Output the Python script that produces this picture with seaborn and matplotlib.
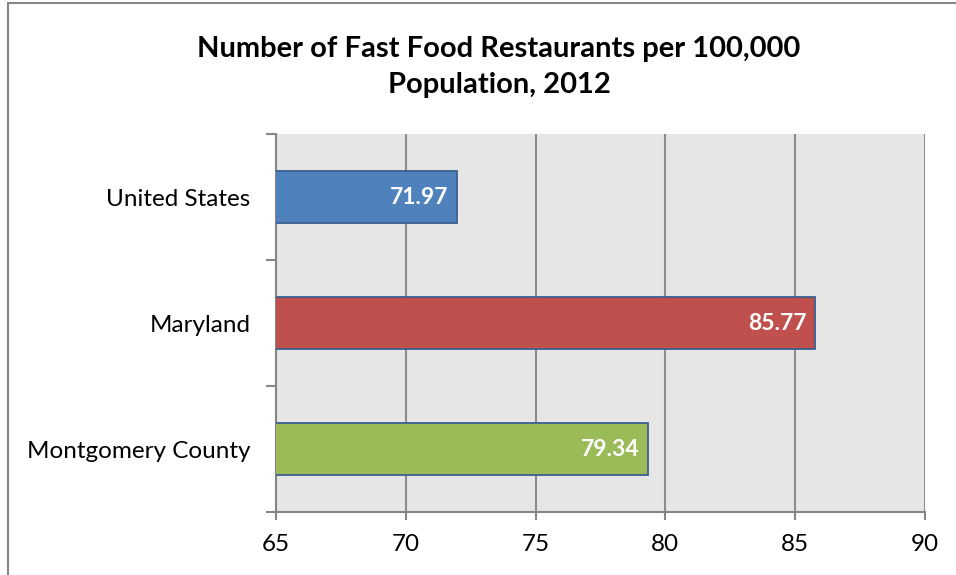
import matplotlib
matplotlib.use("Agg")
import matplotlib.pyplot as plt
from matplotlib.patches import Rectangle
from matplotlib.ticker import FixedLocator
import seaborn as sns
import pandas as pd

# Data
regions = ["United States", "Maryland", "Montgomery County"]
rates = [71.97, 85.77, 79.34]
bar_colors = ["#4F81BD", "#C0504D", "#9BBB59"]
x_ticks = [65, 70, 75, 80, 85, 90]

df = pd.DataFrame({"region": regions, "rate": rates})

sns.set_theme(style="white")
plt.rcParams["font.family"] = ["Lato", "DejaVu Sans"]

fig = plt.figure(figsize=(9.56, 5.75), dpi=100)
ax = fig.add_axes([276 / 956, 1 - 512 / 575, (925 - 276) / 956, (512 - 134) / 575])
ax.set_facecolor("#E6E6E6")

sns.barplot(data=df, y="region", x="rate", hue="region", palette=bar_colors,
            order=regions, hue_order=regions, orient="h", width=0.405,
            saturation=1, legend=False, ax=ax, edgecolor="#3B5F8F",
            linewidth=1.3, zorder=3)

ax.set_xlim(65, 90)
ax.set_ylim(2.5, -0.5)
ax.set_xticks(x_ticks)
ax.set_xticklabels([str(t) for t in x_ticks], fontsize=17.5, color="black")
ax.xaxis.grid(True, color="#8C8C8C", linewidth=1.5, zorder=0)
ax.set_axisbelow(True)
ax.set_xlabel("")
ax.set_ylabel("")

# Category labels at centres, tick marks at slot boundaries
ax.set_yticks(range(len(regions)))
ax.set_yticklabels(regions, fontsize=17.5, color="black")
ax.tick_params(axis="y", which="major", length=0, pad=18.5)
ax.yaxis.set_minor_locator(FixedLocator([-0.5, 0.5, 1.5, 2.5]))
ax.tick_params(axis="y", which="minor", left=True, length=7, width=1.5,
               color="#868686", direction="out")
ax.tick_params(axis="x", which="major", bottom=True, length=6, width=1.5,
               color="#868686", direction="out", pad=10)

for side in ["top", "right"]:
    ax.spines[side].set_visible(False)
for side in ["left", "bottom"]:
    ax.spines[side].set_color("#868686")
    ax.spines[side].set_linewidth(1.5)

# Value labels inside the bar ends
for i, v in enumerate(rates):
    ax.annotate(f"{v:.2f}", xy=(v, i), xytext=(-6, 0), textcoords="offset points",
                ha="right", va="center", color="white", fontsize=16.5,
                fontweight="bold", zorder=5)

fig.text(499 / 956, 1 - 67 / 575,
         "Number of Fast Food Restaurants per 100,000\nPopulation, 2012",
         ha="center", va="center", fontsize=21, fontweight="bold",
         linespacing=1.5, color="black")

# Chart-area frame
fig.patches.append(Rectangle((8 / 956, -0.1), 1.2, 1 - 3 / 575 + 0.1,
                             transform=fig.transFigure, fill=False,
                             edgecolor="#868686", linewidth=1.5))

fig.savefig("out.png", dpi=100)
